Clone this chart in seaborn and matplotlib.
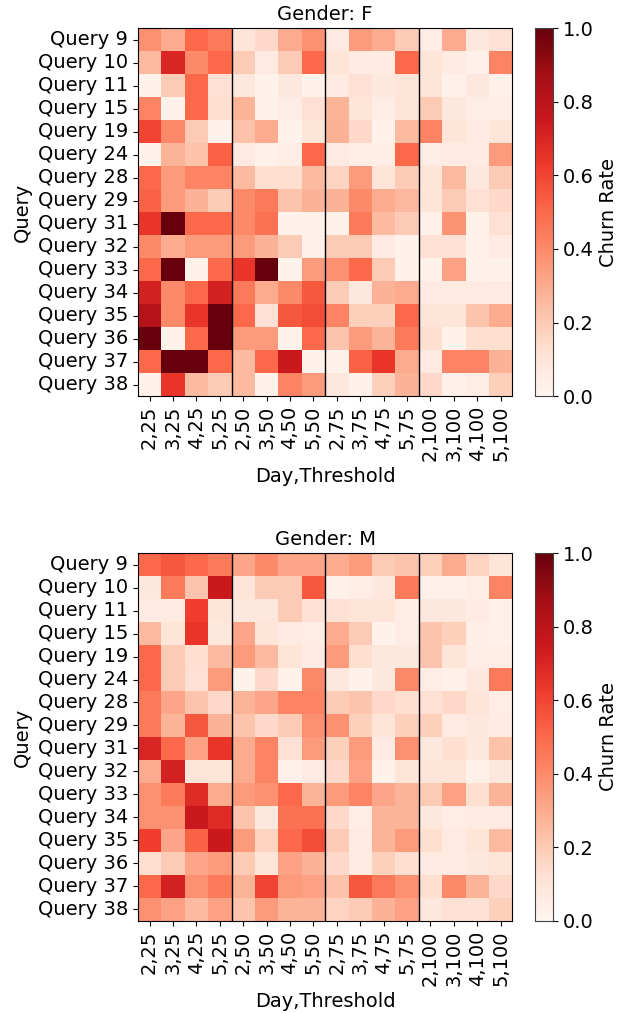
import numpy as np
import pandas as pd
import matplotlib
matplotlib.use('Agg')
import matplotlib.pyplot as plt
import seaborn as sns

# Eixos
queries = ['Query 9', 'Query 10', 'Query 11', 'Query 15', 'Query 19', 'Query 24',
           'Query 28', 'Query 29', 'Query 31', 'Query 32', 'Query 33', 'Query 34',
           'Query 35', 'Query 36', 'Query 37', 'Query 38']
thresholds = [25, 50, 75, 100]
days = [2, 3, 4, 5]
col_labels = ['%d,%d' % (d, t) for t in thresholds for d in days]

# Churn rate - Gender F
churn_f = [
    [0.38, 0.30, 0.50, 0.45, 0.10, 0.15, 0.30, 0.38, 0.07, 0.35, 0.30, 0.20, 0.05, 0.30, 0.08, 0.12],
    [0.25, 0.70, 0.40, 0.50, 0.20, 0.07, 0.20, 0.50, 0.10, 0.06, 0.06, 0.50, 0.10, 0.06, 0.03, 0.42],
    [0.02, 0.20, 0.50, 0.12, 0.08, 0.02, 0.08, 0.02, 0.07, 0.12, 0.08, 0.10, 0.10, 0.03, 0.08, 0.02],
    [0.42, 0.02, 0.50, 0.13, 0.27, 0.02, 0.05, 0.12, 0.27, 0.10, 0.05, 0.10, 0.20, 0.08, 0.05, 0.04],
    [0.60, 0.40, 0.20, 0.02, 0.23, 0.30, 0.02, 0.10, 0.28, 0.15, 0.02, 0.25, 0.42, 0.10, 0.07, 0.10],
    [0.02, 0.27, 0.23, 0.52, 0.07, 0.03, 0.05, 0.50, 0.07, 0.05, 0.05, 0.50, 0.05, 0.06, 0.06, 0.35],
    [0.50, 0.35, 0.42, 0.42, 0.25, 0.13, 0.13, 0.25, 0.17, 0.35, 0.10, 0.20, 0.10, 0.25, 0.08, 0.20],
    [0.52, 0.35, 0.28, 0.20, 0.40, 0.45, 0.22, 0.28, 0.28, 0.40, 0.30, 0.26, 0.10, 0.20, 0.12, 0.15],
    [0.65, 1.00, 0.50, 0.50, 0.40, 0.48, 0.02, 0.02, 0.02, 0.45, 0.25, 0.20, 0.03, 0.37, 0.02, 0.12],
    [0.40, 0.30, 0.35, 0.35, 0.35, 0.28, 0.20, 0.03, 0.20, 0.20, 0.07, 0.02, 0.12, 0.12, 0.03, 0.06],
    [0.50, 1.00, 0.02, 0.50, 0.65, 1.00, 0.02, 0.35, 0.38, 0.50, 0.20, 0.02, 0.02, 0.33, 0.02, 0.02],
    [0.72, 0.40, 0.50, 0.72, 0.45, 0.30, 0.40, 0.55, 0.20, 0.08, 0.28, 0.30, 0.06, 0.06, 0.06, 0.07],
    [0.82, 0.40, 0.65, 1.00, 0.50, 0.12, 0.55, 0.58, 0.42, 0.18, 0.18, 0.50, 0.10, 0.10, 0.22, 0.30],
    [1.00, 0.02, 0.50, 1.00, 0.35, 0.35, 0.02, 0.50, 0.22, 0.35, 0.27, 0.45, 0.13, 0.02, 0.13, 0.13],
    [0.50, 1.00, 1.00, 0.50, 0.25, 0.50, 0.75, 0.02, 0.02, 0.52, 0.65, 0.30, 0.07, 0.42, 0.42, 0.28],
    [0.02, 0.65, 0.25, 0.20, 0.25, 0.02, 0.42, 0.35, 0.08, 0.02, 0.18, 0.28, 0.15, 0.03, 0.05, 0.18],
]

# Churn rate - Gender M
churn_m = [
    [0.50, 0.55, 0.50, 0.45, 0.32, 0.40, 0.32, 0.32, 0.30, 0.35, 0.20, 0.22, 0.18, 0.30, 0.17, 0.10],
    [0.08, 0.45, 0.22, 0.75, 0.10, 0.20, 0.20, 0.55, 0.03, 0.05, 0.08, 0.45, 0.03, 0.03, 0.05, 0.42],
    [0.06, 0.06, 0.62, 0.10, 0.08, 0.08, 0.20, 0.12, 0.12, 0.10, 0.10, 0.05, 0.08, 0.08, 0.06, 0.03],
    [0.25, 0.10, 0.65, 0.08, 0.32, 0.10, 0.06, 0.05, 0.30, 0.20, 0.02, 0.05, 0.22, 0.18, 0.04, 0.03],
    [0.50, 0.20, 0.13, 0.25, 0.35, 0.25, 0.10, 0.06, 0.35, 0.13, 0.08, 0.08, 0.22, 0.10, 0.05, 0.05],
    [0.50, 0.20, 0.12, 0.35, 0.02, 0.15, 0.02, 0.40, 0.08, 0.02, 0.08, 0.40, 0.05, 0.03, 0.08, 0.45],
    [0.45, 0.32, 0.22, 0.15, 0.27, 0.32, 0.42, 0.42, 0.20, 0.22, 0.15, 0.13, 0.12, 0.15, 0.10, 0.05],
    [0.45, 0.27, 0.55, 0.28, 0.22, 0.15, 0.20, 0.38, 0.38, 0.18, 0.10, 0.18, 0.18, 0.07, 0.08, 0.06],
    [0.70, 0.50, 0.33, 0.65, 0.30, 0.42, 0.12, 0.35, 0.18, 0.35, 0.07, 0.38, 0.08, 0.13, 0.08, 0.23],
    [0.30, 0.72, 0.10, 0.10, 0.30, 0.42, 0.03, 0.07, 0.15, 0.33, 0.02, 0.10, 0.10, 0.10, 0.03, 0.08],
    [0.38, 0.45, 0.68, 0.30, 0.35, 0.38, 0.50, 0.27, 0.35, 0.42, 0.32, 0.27, 0.20, 0.33, 0.13, 0.27],
    [0.38, 0.38, 0.75, 0.68, 0.22, 0.08, 0.48, 0.48, 0.15, 0.05, 0.27, 0.27, 0.08, 0.05, 0.06, 0.07],
    [0.62, 0.32, 0.52, 0.75, 0.35, 0.17, 0.50, 0.58, 0.20, 0.07, 0.27, 0.35, 0.13, 0.07, 0.10, 0.25],
    [0.13, 0.20, 0.32, 0.35, 0.20, 0.10, 0.33, 0.28, 0.15, 0.07, 0.18, 0.13, 0.07, 0.07, 0.08, 0.10],
    [0.50, 0.72, 0.38, 0.45, 0.27, 0.60, 0.35, 0.33, 0.23, 0.55, 0.45, 0.38, 0.13, 0.40, 0.27, 0.15],
    [0.38, 0.33, 0.25, 0.33, 0.22, 0.35, 0.27, 0.27, 0.17, 0.20, 0.28, 0.33, 0.08, 0.12, 0.12, 0.18],
]

FS = 14
plt.rcParams['font.size'] = FS

fig = plt.figure(figsize=(6.24, 10.13), dpi=100)

paineis = [('F', churn_f, 0.609), ('M', churn_m, 0.091)]
for genero, valores, base in paineis:
    df = pd.DataFrame(valores, index=queries, columns=col_labels)
    ax = fig.add_axes([0.221, base, 0.600, 0.363])
    cax = fig.add_axes([0.857, base, 0.029, 0.363])
    sns.heatmap(df, ax=ax, cbar_ax=cax, cmap='Reds', vmin=0, vmax=1,
                cbar_kws={'label': 'Churn Rate'})
    for x in [4, 8, 12]:
        ax.axvline(x, color='black', linewidth=1)
    for s in ax.spines.values():
        s.set_visible(True)
        s.set_color('black')
    ax.set_title('Gender: %s' % genero, fontsize=FS)
    ax.set_xlabel('Day,Threshold', fontsize=FS)
    ax.set_ylabel('Query', fontsize=FS)
    ax.set_xticklabels(col_labels, rotation=90, fontsize=FS)
    ax.set_yticklabels(queries, rotation=0, fontsize=FS)
    cax.set_yticks([0, 0.2, 0.4, 0.6, 0.8, 1.0])
    cax.tick_params(labelsize=FS)
    cax.yaxis.label.set_size(FS)
    for s in cax.spines.values():
        s.set_visible(True)
        s.set_color('#444444')

fig.savefig('out.png', dpi=100)
